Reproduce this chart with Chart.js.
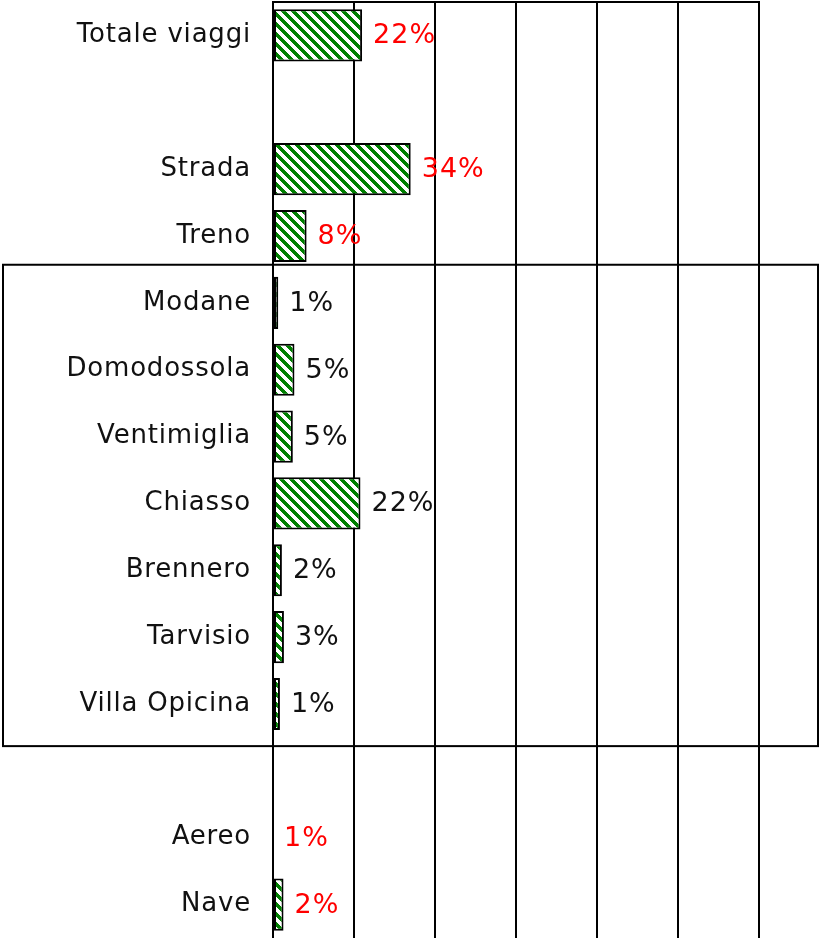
<!DOCTYPE html>
<html>
<head>
<meta charset="utf-8">
<script src="https://cdn.jsdelivr.net/npm/chart.js@4.4.1/dist/chart.umd.min.js"></script>
<style>
  html, body { margin: 0; padding: 0; background: #fff; }
  #wrap { width: 820px; height: 938px; position: relative; }
</style>
</head>
<body>
<div id="wrap"><canvas id="trips-chart"></canvas></div>
<script>
// categories (blank entries are the spacer rows)
const categories = ['Totale viaggi', '', 'Strada', 'Treno', 'Modane', 'Domodossola', 'Ventimiglia',
    'Chiasso', 'Brennero', 'Tarvisio', 'Villa Opicina', '', 'Aereo', 'Nave'];
// bar lengths (%)
const shares = [22, null, 34, 8.3, 1.3, 5.3, 4.9, 21.6, 2.2, 2.7, 1.7, null, null, 2.6];
// printed value labels
const shareLabels = ['22%', '', '34%', '8%', '1%', '5%', '5%', '22%', '2%', '3%', '1%', '', '1%', '2%'];
// rows whose label is printed in red
const redRows = ['Totale viaggi', 'Strada', 'Treno', 'Aereo', 'Nave'];
const xTicks = [0, 20, 40, 60, 80, 100, 120];

document.addEventListener('DOMContentLoaded', () => {
    // wide downward diagonal hatch, green on white
    function makeHatch() {
        const c = document.createElement('canvas');
        c.width = 10; c.height = 10;
        const p = c.getContext('2d');
        p.fillStyle = '#ffffff';
        p.fillRect(0, 0, 10, 10);
        p.fillStyle = '#008000';
        for (let y = 0; y < 10; y++) {
            for (let x = 0; x < 10; x++) {
                if (((x - y) % 10 + 10) % 10 < 5) p.fillRect(x, y, 1, 1);
            }
        }
        return p.createPattern(c, 'repeat');
    }

    const spacing = {
        id: 'spacing',
        beforeDraw(chart) { chart.ctx.letterSpacing = '0.8px'; }
    };

    // frame around the border crossings
    const crossingBox = {
        id: 'crossingBox',
        afterDraw(chart) {
            const y = chart.scales.y;
            const h = y.getPixelForValue(1) - y.getPixelForValue(0);
            const top = y.getPixelForValue(4) - 0.57 * h;
            const bottom = y.getPixelForValue(10) + 0.63 * h;
            const ctx = chart.ctx;
            ctx.save();
            ctx.strokeStyle = '#000';
            ctx.lineWidth = 2;
            ctx.strokeRect(3, top, chart.width - 5, bottom - top);
            ctx.restore();
        }
    };

    const valueLabels = {
        id: 'valueLabels',
        afterDatasetsDraw(chart) {
            const ctx = chart.ctx;
            const x = chart.scales.x;
            const y = chart.scales.y;
            ctx.save();
            ctx.font = '27px "DejaVu Sans"';
            ctx.letterSpacing = '1px';
            ctx.textAlign = 'left';
            ctx.textBaseline = 'middle';
            shareLabels.forEach((txt, i) => {
                if (!txt) return;
                const px = x.getPixelForValue(shares[i] || 0) + 11;
                ctx.fillStyle = redRows.includes(categories[i]) ? '#ff0000' : '#111111';
                ctx.fillText(txt, px, y.getPixelForValue(i) + 1);
            });
            ctx.restore();
        }
    };

    const ctx = document.getElementById('trips-chart').getContext('2d');
    new Chart(ctx, {
        type: 'bar',
        data: {
            labels: categories,
            datasets: [{
                data: shares,
                backgroundColor: makeHatch(),
                borderColor: '#000000',
                borderWidth: 2,
                borderSkipped: false,
                barPercentage: 0.78,
                categoryPercentage: 1
            }]
        },
        options: {
            indexAxis: 'y',
            animation: false,
            responsive: true,
            maintainAspectRatio: false,
            layout: { padding: { top: 2, right: 61, bottom: 0, left: 0 } },
            scales: {
                x: {
                    position: 'top',
                    min: 0,
                    max: 120,
                    afterBuildTicks: (scale) => { scale.ticks = xTicks.map(v => ({ value: v })); },
                    ticks: { display: false },
                    grid: { color: '#000', lineWidth: 2, drawTicks: false },
                    border: { display: true, color: '#000', width: 2 }
                },
                y: {
                    afterFit: (scale) => {
                        scale.width = 273;
                        scale.paddingTop = 0;
                        scale.paddingBottom = 0;
                    },
                    ticks: {
                        color: '#111',
                        padding: 22,
                        font: { family: 'DejaVu Sans', size: 26 }
                    },
                    grid: { display: false, drawTicks: false },
                    border: { display: true, color: '#000', width: 2 }
                }
            },
            plugins: {
                legend: { display: false },
                tooltip: { enabled: false }
            }
        },
        plugins: [spacing, crossingBox, valueLabels]
    });
});
</script>
</body>
</html>
